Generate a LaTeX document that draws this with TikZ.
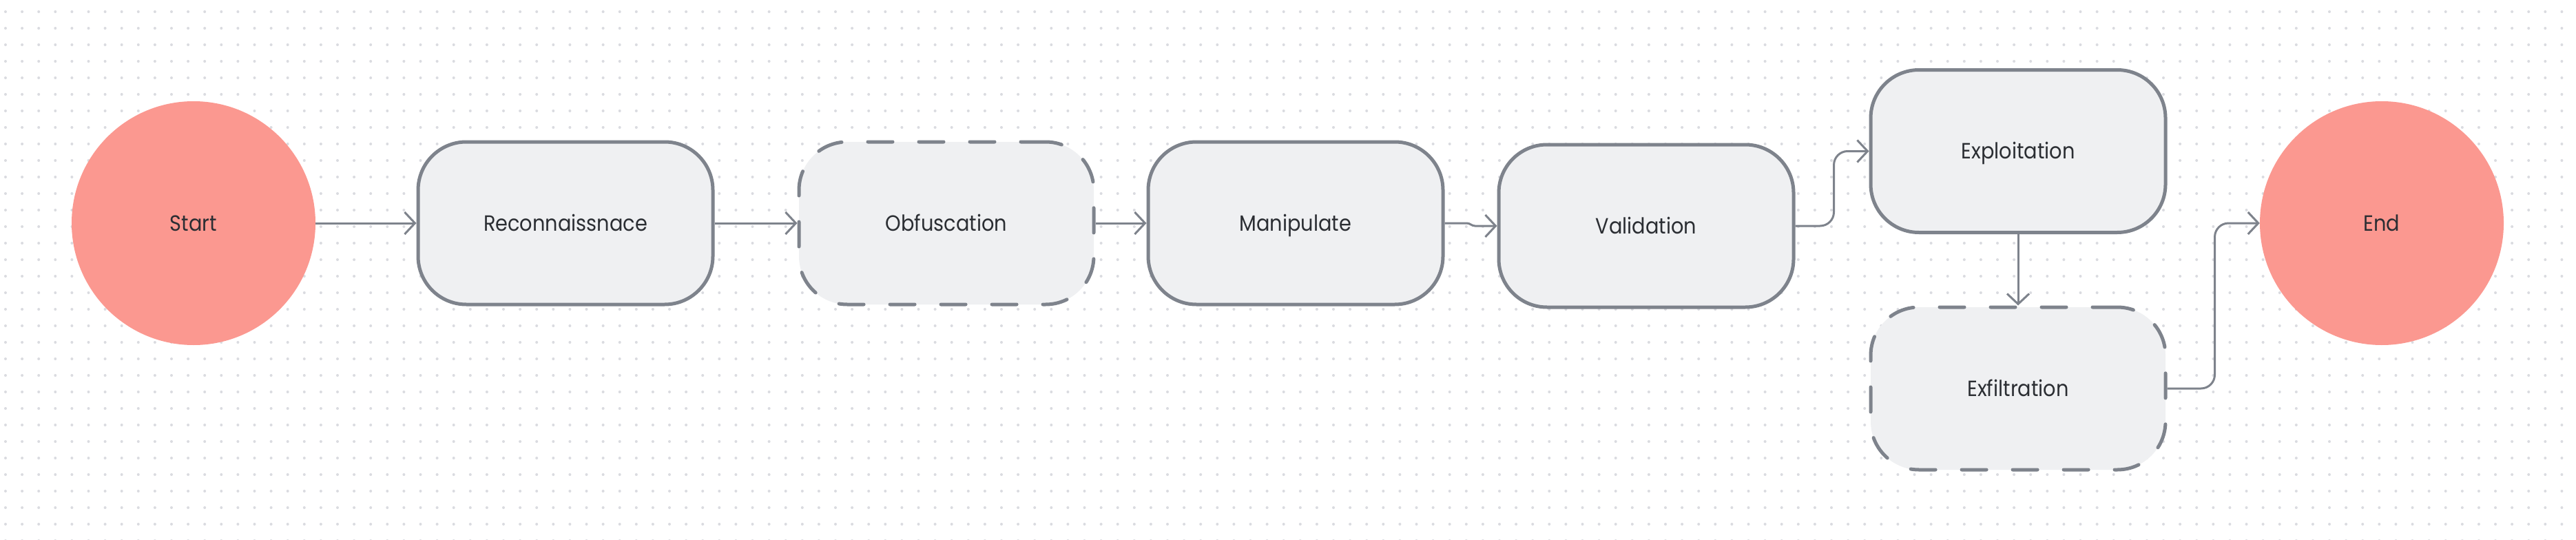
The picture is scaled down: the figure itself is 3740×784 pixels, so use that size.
\documentclass[tikz,border=0pt]{standalone}
\usepackage{fontspec}
\setmainfont{Poppins}[FakeStretch=0.9]
\usetikzlibrary{arrows.meta}
\definecolor{bord}{HTML}{7E838C}
\definecolor{boxfill}{HTML}{EFF0F2}
\definecolor{salmon}{HTML}{FB9890}
\definecolor{txt}{HTML}{2B2E33}
\definecolor{dotc}{HTML}{DADBE0}
\tikzset{
  lbl/.style={text=txt, font=\fontsize{32}{38}\selectfont, text height=22pt, text depth=0pt},
  box/.style={draw=bord, line width=5pt, fill=boxfill, rounded corners=70pt,
    minimum width=428pt, minimum height=236pt, inner sep=0pt, lbl},
  dbox/.style={box, dash pattern=on 36pt off 38pt, line cap=round},
  term/.style={circle, fill=salmon, minimum size=354pt, inner sep=0pt, lbl},
  conn/.style={draw=bord, line width=3pt, rounded corners=20pt,
    -{Straight Barb[length=15pt,width=32pt]}}
}
\begin{document}
\begin{tikzpicture}[x=1pt,y=-1pt]
\useasboundingbox (0,0) rectangle (3740,784);
\fill[white] (0,0) rectangle (3740,784);
\foreach \i in {0,...,155} {\foreach \j in {0,...,32} {\fill[dotc] (8+24.1*\i,17+24*\j) circle[radius=2];}}
\node[term] (start) at (281,324) {Start};
\node[box] (recon) at (821,324) {Reconnaissnace};
\node[dbox] (obf) at (1374,324) {Obfuscation};
\node[box] (manip) at (1881,324) {Manipulate};
\node[box] (val) at (2390,328) {Validation};
\node[box] (exploit) at (2930,219.5) {Exploitation};
\node[dbox] (exfil) at (2930,564) {Exfiltration};
\node[term] (end) at (3458,324) {End};
\draw[conn] (start.east) -- (recon.west);
\draw[conn] (recon.east) -- (obf.west);
\draw[conn] (obf.east) -- (manip.west);
\draw[conn, sharp corners] (manip.east) -- ++(32,0) to[out=0,in=180] ++(12,4) -- (val.west);
\draw[conn] (val.east) -- ++(56,0) |- (exploit.west);
\draw[conn] (exploit.south) -- (exfil.north);
\draw[conn] (exfil.east) -- ++(69,0) |- (end.west);
\end{tikzpicture}
\end{document}
